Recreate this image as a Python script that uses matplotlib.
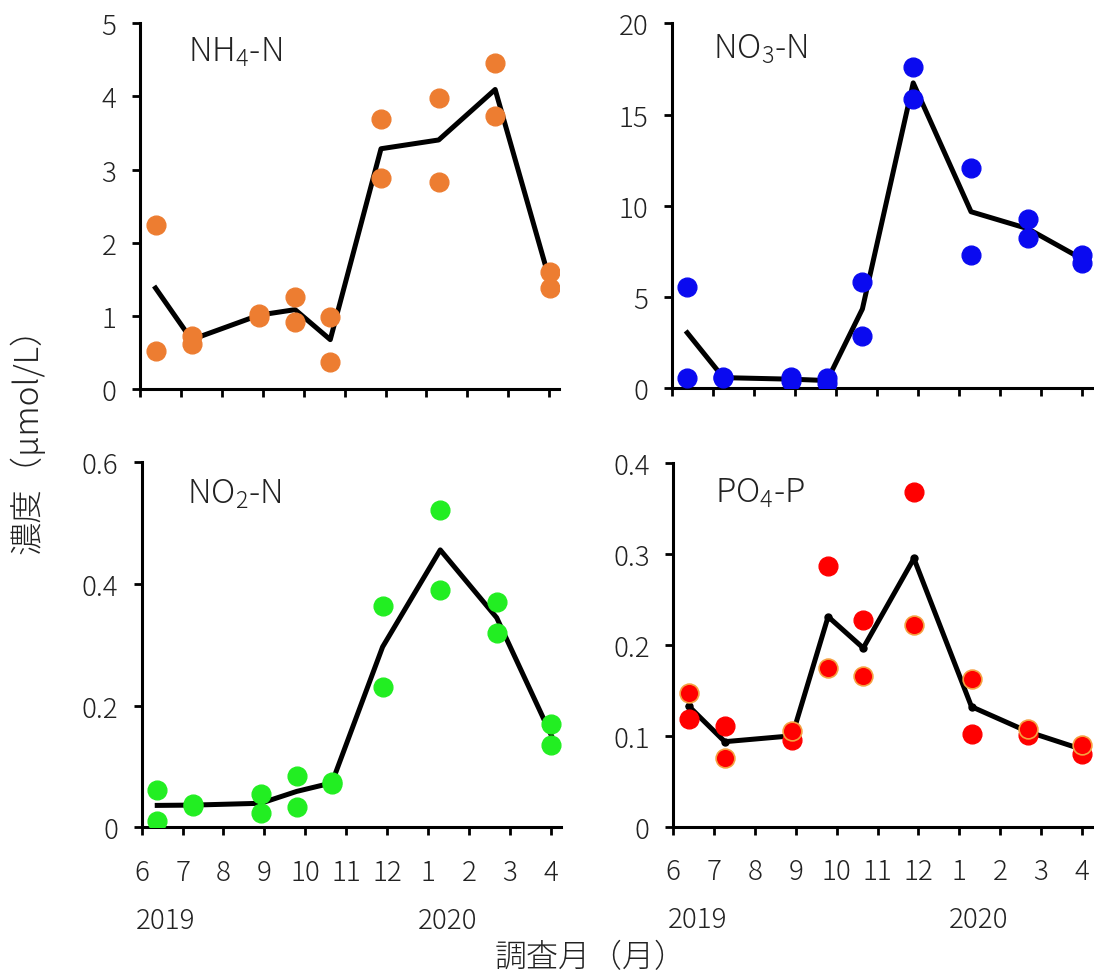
import numpy as np
import matplotlib
matplotlib.use("Agg")
import matplotlib.pyplot as plt
import matplotlib.transforms as mtransforms

plt.rcParams['font.family'] = ['Noto Sans CJK JP', 'DejaVu Sans']
plt.rcParams['font.weight'] = 'light'
plt.rcParams['mathtext.fontset'] = 'custom'
plt.rcParams['mathtext.rm'] = 'Noto Sans CJK JP:light'
plt.rcParams['mathtext.it'] = 'Noto Sans CJK JP:light'
plt.rcParams['mathtext.bf'] = 'Noto Sans CJK JP'

# sampling dates as months after 1 June 2019
sample_x = [0.38, 1.26, 2.91, 3.79, 4.65, 5.89, 7.30, 8.68, 10.01]
month_ticks = list(range(11))
month_labels = ["6", "7", "8", "9", "10", "11", "12", "1", "2", "3", "4"]

# two stations per survey (umol/L)
nh4_a = [2.24, 0.73, 1.03, 1.26, 0.98, 3.69, 3.98, 4.46, 1.60]
nh4_b = [0.52, 0.62, 0.99, 0.91, 0.37, 2.88, 2.83, 3.73, 1.38]

no3_a = [5.53, 0.62, 0.62, 0.55, 5.81, 17.62, 12.05, 9.28, 7.30]
no3_b = [0.55, 0.55, 0.38, 0.30, 2.88, 15.85, 7.30, 8.22, 6.87]

no2_a = [0.061, 0.038, 0.055, 0.085, 0.074, 0.363, 0.522, 0.370, 0.169]
no2_b = [0.011, 0.035, 0.024, 0.033, 0.072, 0.230, 0.390, 0.319, 0.135]

po4_a = [0.118, 0.111, 0.095, 0.287, 0.227, 0.368, 0.102, 0.101, 0.080]
po4_b = [0.147, 0.076, 0.105, 0.175, 0.166, 0.222, 0.162, 0.108, 0.090]

W, H = 1094, 978
fig = plt.figure(figsize=(W / 100, H / 100), dpi=100)


def px_axes(left, top, right, bottom):
    return fig.add_axes([left / W, 1 - bottom / H, (right - left) / W, (bottom - top) / H])


panels = [
    # name, a, b, color, ylim, yticks, rect, label pos, show x labels
    (r"$\mathrm{NH_4}$-N", nh4_a, nh4_b, "#ED7D31", 5, [0, 1, 2, 3, 4, 5],
     (140, 24.3, 559, 390), (0.115, 0.897), False),
    (r"$\mathrm{NO_3}$-N", no3_a, no3_b, "#0A0AF0", 20, [0, 5, 10, 15, 20],
     (671.7, 24.3, 1091.6, 389.3), (0.099, 0.905), False),
    (r"$\mathrm{NO_2}$-N", no2_a, no2_b, "#22EE22", 0.6, [0, 0.2, 0.4, 0.6],
     (141.7, 463.3, 560.5, 828.3), (0.109, 0.889), True),
    (r"$\mathrm{PO_4}$-P", po4_a, po4_b, "#FF0000", 0.4, [0, 0.1, 0.2, 0.3, 0.4],
     (673.3, 464, 1091.6, 827.7), (0.100, 0.894), True),
]

for name, a, b, color, ymax, yticks, rect, lpos, show_x in panels:
    ax = px_axes(*rect)
    mean = np.mean([a, b], axis=0)
    if name.startswith(r"$\mathrm{PO"):
        ax.plot(sample_x, mean, color="black", lw=3.6, marker="o", ms=5, zorder=2)
        ax.plot(sample_x, a, "o", color=color, ms=13.5, mec=color, zorder=3)
        ax.plot(sample_x, b, "o", color=color, ms=13.5, mec="#F5A040", mew=1.2, zorder=3)
    else:
        ax.plot(sample_x, mean, color="black", lw=3.6, zorder=2)
        ax.plot(sample_x, a, "o", color=color, ms=13.5, mec=color, zorder=3)
        ax.plot(sample_x, b, "o", color=color, ms=13.5, mec=color, zorder=3)

    ax.set_xlim(0, 10.24)
    ax.set_ylim(0, ymax)
    ax.set_yticks(yticks)
    ax.set_yticklabels([("%g" % v) for v in yticks])
    ax.set_xticks(month_ticks)
    ax.spines["top"].set_visible(False)
    ax.spines["right"].set_visible(False)
    for s in ("left", "bottom"):
        ax.spines[s].set_linewidth(2.2)
    ax.tick_params(axis="both", direction="out", length=6, width=2, labelsize=20,
                   colors="black", labelcolor="#222222")
    ax.tick_params(axis="y", pad=11)
    ax.tick_params(axis="x", pad=16)
    if show_x:
        ax.set_xticklabels(month_labels)
        trans = mtransforms.blended_transform_factory(ax.transData, ax.transAxes)
        ax.text(0.59, -0.255, "2019", transform=trans, ha="center", va="center",
                fontsize=20, color="#222222")
        ax.text(7.47, -0.255, "2020", transform=trans, ha="center", va="center",
                fontsize=20, color="#222222")
    else:
        ax.set_xticklabels([])

    ax.text(lpos[0], lpos[1], name, transform=ax.transAxes, ha="left", va="baseline",
            fontsize=24, color="#222222")

fig.text(591 / W, 1 - 958 / H, "調査月（月）", ha="center", va="center",
         fontsize=23, color="#222222")
fig.text(28 / W, 1 - 432 / H, "濃度（μmol/L）", ha="center", va="center",
         rotation=90, fontsize=24, color="#222222")

fig.savefig("out.png", dpi=100)
